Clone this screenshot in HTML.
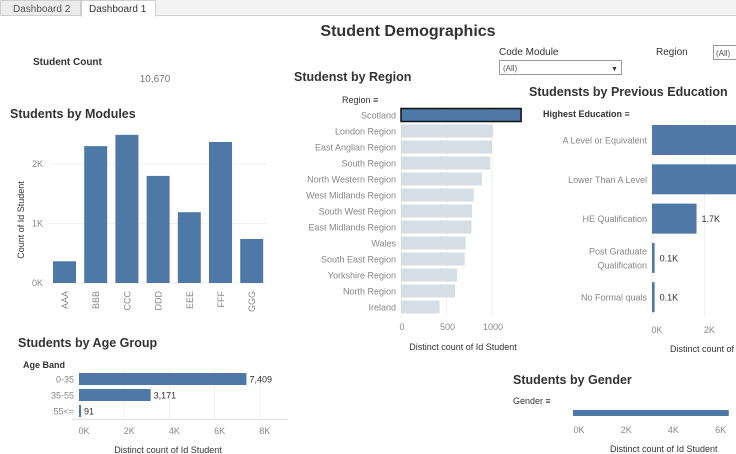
<!DOCTYPE html>
<html><head><meta charset="utf-8"><style>
body{margin:0;background:#fff;width:736px;height:454px;overflow:hidden;font-family:"Liberation Sans",sans-serif}
svg{position:absolute;left:0;top:0}
</style></head><body>
<svg id="s" width="736" height="454" viewBox="0 0 736 454" font-family="Liberation Sans, sans-serif">
<rect x="0" y="0" width="736" height="16" fill="#f3f3f3"/>
<line x1="0" y1="15.5" x2="736" y2="15.5" stroke="#cfcfcf"/>
<g><rect x="0.5" y="0.5" width="80" height="15" fill="#ececec" stroke="#cfcfcf"/><text x="13" y="12" font-size="10" fill="#555">Dashboard 2</text></g>
<g><rect x="81.5" y="0.5" width="74" height="16" fill="#fff" stroke="#cfcfcf"/><rect x="82" y="15" width="73" height="2" fill="#fff"/><text x="89" y="12" font-size="10" fill="#333">Dashboard 1</text></g>
<text x="408" y="36" font-size="16" font-weight="bold" fill="#333" text-anchor="middle">Student Demographics</text>
<text x="33" y="65" font-size="10" font-weight="bold" fill="#333">Student Count</text>
<text x="155" y="82" font-size="10" fill="#777" text-anchor="middle">10,670</text>
<text x="499" y="55" font-size="10" fill="#333">Code Module</text>
<g><rect x="499.5" y="60.5" width="122" height="14" fill="#fff" stroke="#999"/><text x="503" y="71" font-size="8" fill="#555">(All)</text><text x="611" y="71" font-size="7" fill="#333">▼</text></g>
<text x="656" y="55" font-size="10" fill="#333">Region</text>
<g><rect x="713.5" y="45.5" width="30" height="14" fill="#fff" stroke="#999"/><text x="716" y="56" font-size="8" fill="#555">(All)</text></g>

<text x="10" y="118" font-size="12.5" font-weight="bold" fill="#333">Students by  Modules</text>
<text x="294" y="81" font-size="12.5" font-weight="bold" fill="#333">Studenst by Region</text>
<text x="529" y="96" font-size="12.5" font-weight="bold" fill="#333">Studensts by Previous Education</text>
<text x="18" y="347" font-size="12.5" font-weight="bold" fill="#333">Students by Age Group</text>
<text x="513" y="384" font-size="12.5" font-weight="bold" fill="#333">Students by Gender</text>
<g id="g"></g>
</svg>
<script>
const modCats=["AAA","BBB","CCC","DDD","EEE","FFF","GGG"];
const modVals=[365,2300,2490,1800,1190,2370,740];
const modTicks=[0,1000,2000];
const modTickLabels=["0K","1K","2K"];
const regCats=["Scotland","London Region","East Anglian Region","South Region","North Western Region","West Midlands Region","South West Region","East Midlands Region","Wales","South East Region","Yorkshire Region","North Region","Ireland"];
const regVals=[1320,1010,1000,980,890,800,780,775,710,700,615,595,425];
const regTicks=[0,500,1000];
const eduCats=[["A Level or Equivalent"],["Lower Than A Level"],["HE Qualification"],["Post Graduate","Qualification"],["No Formal quals"]];
const eduVals=[4700,4300,1700,100,100];
const eduLabels=["","","1.7K","0.1K","0.1K"];
const eduTicks=[0,2000];
const eduTickLabels=["0K","2K"];
const ageCats=["0-35","35-55","55<="];
const ageVals=[7409,3171,91];
const ageLabels=["7,409","3,171","91"];
const ageTicks=[0,2000,4000,6000,8000];
const ageTickLabels=["0K","2K","4K","6K","8K"];
const genVals=[6600];
const genTicks=[0,2000,4000,6000];
const genTickLabels=["0K","2K","4K","6K"];

const NS="http://www.w3.org/2000/svg",G=document.getElementById('g');
function el(t,a,txt){const e=document.createElementNS(NS,t);for(const k in a)e.setAttribute(k,a[k]);if(txt!==undefined)e.textContent=txt;G.appendChild(e);return e;}
const BLUE="#4e79a7",GRID="#efefef",TICK="#999",LBL="#888";

// Modules
const my=v=>283-v*0.0595, mx=i=>53+i*31.2;
modTicks.forEach((t,i)=>{
 const l=el('line',{x1:49,x2:267,y1:my(t),y2:my(t),stroke:GRID});
 
 const tx=el('text',{x:43,y:my(t)+3,'font-size':9,fill:LBL,'text-anchor':'end'},modTickLabels[i]);
 
});
modCats.forEach((c,i)=>{
 const r=el('rect',{x:mx(i),y:my(modVals[i]),width:23,height:283-my(modVals[i]),fill:BLUE});
 
 const tx=el('text',{transform:`translate(${mx(i)+15},291) rotate(-90)`,'font-size':9,fill:LBL,'text-anchor':'end'},c);
 
});
const yt=el('text',{transform:'translate(24,220) rotate(-90)','font-size':9,fill:'#333','text-anchor':'middle'},'Count of Id Student');


// Region
const rx=v=>401+v*0.091, ry=i=>115+i*16;
const rh=el('text',{x:342,y:103,'font-size':9,fill:'#333'},'Region ≡');

regTicks.forEach(t=>{
 const l=el('line',{x1:rx(t),x2:rx(t),y1:107,y2:316,stroke:GRID});
 
 const tx=el('text',{x:rx(t)+1,y:330,'font-size':9,fill:LBL,'text-anchor':'middle'},String(t));
 
});
regCats.forEach((c,i)=>{
 const r=el('rect',{x:401,y:ry(i)-6.5,width:rx(regVals[i])-401,height:13,fill:i===0?BLUE:'#d5dde5',stroke:i===0?'#111':'none','stroke-width':1.5});
 
 const tx=el('text',{x:396,y:ry(i)+3.5,'font-size':9,fill:LBL,'text-anchor':'end'},c);
 
});
const rt=el('text',{x:463,y:350,'font-size':9,fill:'#333','text-anchor':'middle'},'Distinct count of Id Student');


// Education
const ex=v=>652+v*0.0262, ey=i=>140+i*39.3;
const eh=el('text',{x:543,y:117,'font-size':9,'font-weight':'bold',fill:'#333'},'Highest Education ≡');

eduTicks.forEach((t,i)=>{
 const l=el('line',{x1:ex(t),x2:ex(t),y1:120,y2:316,stroke:GRID});
 
 const tx=el('text',{x:ex(t)+5,y:333,'font-size':9,fill:LBL,'text-anchor':'middle'},eduTickLabels[i]);
 
});
eduCats.forEach((c,i)=>{
 const r=el('rect',{x:652,y:ey(i)-15,width:Math.max(ex(eduVals[i])-652,2),height:30,fill:BLUE});
 
 c.forEach((line,j)=>{
  const tx=el('text',{x:647,y:ey(i)+3.5+(j-(c.length-1)/2)*14,'font-size':9,fill:LBL,'text-anchor':'end'},line);
  
 });
 if(eduLabels[i]){const v=el('text',{x:ex(eduVals[i])+5,y:ey(i)+3.5,'font-size':9,fill:'#333'},eduLabels[i]);
 }
});
const et=el('text',{x:670,y:352,'font-size':9,fill:'#333'},'Distinct count of Id Student');


// Age
const ax=v=>79+v*0.0226, ay=i=>379+i*16;
const ah=el('text',{x:23,y:368,'font-size':9,'font-weight':'bold',fill:'#333'},'Age Band');

ageTicks.forEach((t,i)=>{
 const l=el('line',{x1:ax(t),x2:ax(t),y1:370,y2:419,stroke:GRID});
 
 const tx=el('text',{x:ax(t)+5,y:434,'font-size':9,fill:LBL,'text-anchor':'middle'},ageTickLabels[i]);
 
});
const al=el('line',{x1:72,x2:288,y1:419.5,y2:419.5,stroke:'#e4e4e4'});

ageCats.forEach((c,i)=>{
 const r=el('rect',{x:79,y:ay(i)-6,width:Math.max(ax(ageVals[i])-79,2),height:12,fill:BLUE});
 
 const tx=el('text',{x:74,y:ay(i)+3.5,'font-size':9,fill:LBL,'text-anchor':'end'},c);
 
 const v=el('text',{x:Math.max(ax(ageVals[i]),81)+3,y:ay(i)+3.5,'font-size':9,fill:'#333'},ageLabels[i]);
 
});
const at=el('text',{x:168,y:453,'font-size':9,fill:'#333','text-anchor':'middle'},'Distinct count of Id Student');


// Gender
const gx=v=>573+v*0.0236;
const gh=el('text',{x:513,y:404,'font-size':9,fill:'#333'},'Gender ≡');

genVals.forEach(v=>{
 const r=el('rect',{x:573,y:410,width:gx(v)-573,height:6,fill:BLUE});
 
});
genTicks.forEach((t,i)=>{
 const tx=el('text',{x:gx(t)+6,y:433,'font-size':9,fill:LBL,'text-anchor':'middle'},genTickLabels[i]);
 
});
const gt=el('text',{x:610,y:452,'font-size':9,fill:'#333'},'Distinct count of Id Student');

</script>
</body></html>
